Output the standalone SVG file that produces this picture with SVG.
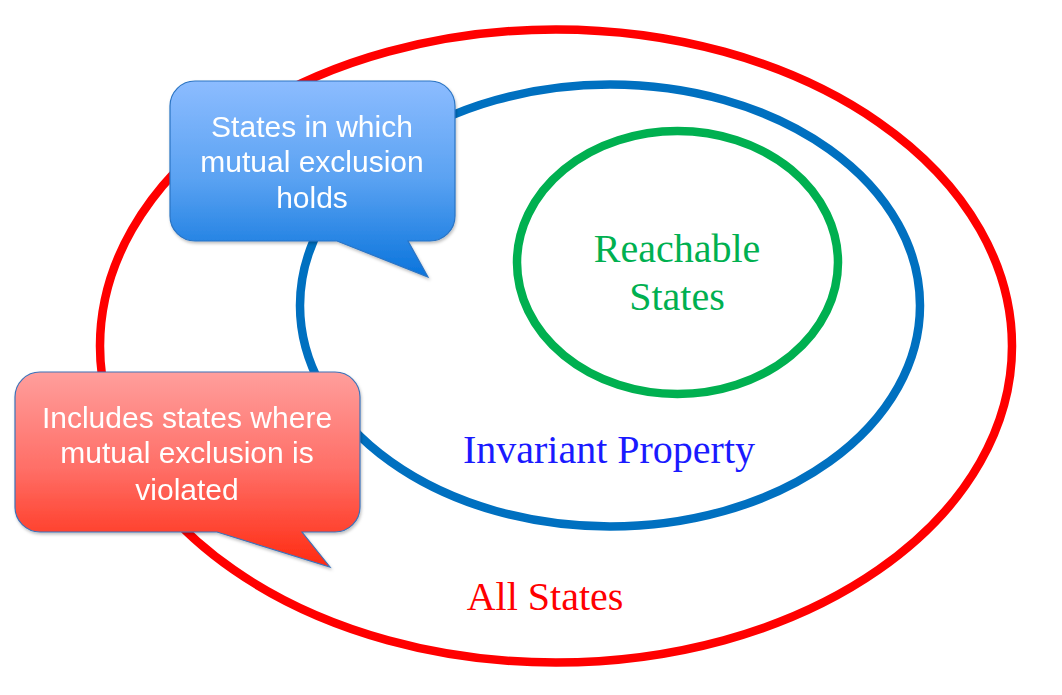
<svg xmlns="http://www.w3.org/2000/svg" width="1062" height="695" viewBox="0 0 1062 695">
<defs>
<linearGradient id="gBlue" x1="0" y1="0" x2="0" y2="1">
<stop offset="0" stop-color="#8cbcff"/>
<stop offset="0.5" stop-color="#5aa2f2"/>
<stop offset="1" stop-color="#0a74dc"/>
</linearGradient>
<linearGradient id="gRed" x1="0" y1="0" x2="0" y2="1">
<stop offset="0" stop-color="#ff9e9c"/>
<stop offset="0.5" stop-color="#ff6e66"/>
<stop offset="1" stop-color="#ff2a10"/>
</linearGradient>
<filter id="sh" x="-10%" y="-10%" width="120%" height="120%">
<feDropShadow dx="1" dy="2" stdDeviation="1.5" flood-color="#000" flood-opacity="0.25"/>
</filter>
</defs>
<style>
.ring{fill:none;stroke-width:8.5}
.lbl{font-family:"Liberation Serif","Times New Roman",serif;font-size:40px;text-anchor:middle}
.ct{font-family:"Liberation Sans",Arial,sans-serif;font-size:30px;fill:#fff;text-anchor:middle}
.call{stroke-width:1.2}
</style>
<rect width="1062" height="695" fill="#fff"/>
<g id="all-states">
<ellipse class="ring" cx="556" cy="346" rx="456" ry="316.5" stroke="#ff0000"/>
<text class="lbl" x="545" y="610" fill="#ff0000">All States</text>
</g>
<g id="invariant-property">
<ellipse class="ring" cx="610" cy="305.5" rx="310" ry="221" stroke="#0070c0"/>
<text class="lbl" x="609" y="463" fill="#1a1aff">Invariant Property</text>
</g>
<g id="reachable-states">
<ellipse class="ring" cx="677.5" cy="262.5" rx="160.5" ry="131.5" stroke="#00b050"/>
<text class="lbl" x="677" y="262" fill="#00b050">Reachable</text>
<text class="lbl" x="677" y="310" fill="#00b050">States</text>
</g>
<g id="callout-holds" filter="url(#sh)">
<path class="call" fill="url(#gBlue)" stroke="#2a74c4" d="M195,81 H430 A25,25 0 0 1 455,106 V216 A25,25 0 0 1 430,241 H408 L428,277 L337,241 H195 A25,25 0 0 1 170,216 V106 A25,25 0 0 1 195,81 Z"/>
<text class="ct" x="312" y="137">States in which</text>
<text class="ct" x="312" y="172">mutual exclusion</text>
<text class="ct" x="312" y="208">holds</text>
</g>
<g id="callout-violated" filter="url(#sh)">
<path class="call" fill="url(#gRed)" stroke="#3d72b8" d="M40,372 H335 A25,25 0 0 1 360,397 V507 A25,25 0 0 1 335,532 H302 L330,567 L217,532 H40 A25,25 0 0 1 15,507 V397 A25,25 0 0 1 40,372 Z"/>
<text class="ct" x="187" y="428">Includes states where</text>
<text class="ct" x="187" y="463">mutual exclusion is</text>
<text class="ct" x="187" y="500">violated</text>
</g>
<g id="connectors"/>
</svg>
